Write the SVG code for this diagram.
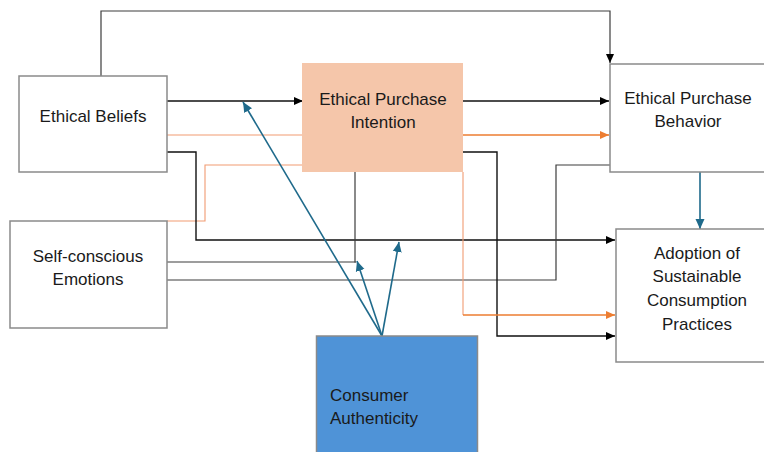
<svg xmlns="http://www.w3.org/2000/svg" width="764" height="452" viewBox="0 0 764 452">
  <defs>
    <style>
      .box { stroke: #8a8a8a; stroke-width: 1.5; }
      .lbl { font-family: "Liberation Sans", Arial, sans-serif; font-size: 17px; fill: #1a1a1a; }
      .mid { text-anchor: middle; }
      .blk { fill: none; stroke: #111; stroke-width: 1.4; }
      .gry { fill: none; stroke: #3c3c3c; stroke-width: 1.2; }
      .org { fill: none; stroke: #ED7D31; stroke-width: 1.4; }
      .orgl { fill: none; stroke: #F19B72; stroke-width: 1.1; }
      .blu { fill: none; stroke: #1F6A8B; stroke-width: 1.6; }
    </style>
    <marker id="ah-black" markerUnits="userSpaceOnUse" markerWidth="10" markerHeight="10" refX="9" refY="5" orient="auto">
      <path d="M0,1 L9,5 L0,9 Z" fill="#000"/>
    </marker>
    <marker id="ah-orange" markerUnits="userSpaceOnUse" markerWidth="10" markerHeight="10" refX="9" refY="5" orient="auto">
      <path d="M0,1 L9,5 L0,9 Z" fill="#ED7D31"/>
    </marker>
    <marker id="ah-blue" markerUnits="userSpaceOnUse" markerWidth="12" markerHeight="12" refX="10" refY="6" orient="auto">
      <path d="M0,1.5 L10,6 L0,10.5 Z" fill="#1F6A8B"/>
    </marker>
  </defs>

  <rect width="764" height="452" fill="#ffffff"/>

  <g id="connectors">
    <!-- Ethical Beliefs over the top to Ethical Purchase Behavior -->
    <polyline class="gry" points="101,76 101,11 610,11 610,63" marker-end="url(#ah-black)"/>
    <!-- Ethical Beliefs to Ethical Purchase Intention -->
    <line class="blk" x1="167" y1="101" x2="303" y2="101" marker-end="url(#ah-black)"/>
    <!-- orange path through the intention box -->
    <line class="orgl" x1="167" y1="135" x2="305" y2="135"/>
    <line class="org" x1="463" y1="135" x2="609" y2="135" marker-end="url(#ah-orange)"/>
    <!-- Self-conscious Emotions to intention (orange) -->
    <polyline class="orgl" points="306,165 205,165 205,221 167,221"/>
    <!-- Ethical Beliefs to Adoption -->
    <polyline class="blk" points="167,152 196,152 196,240 615,240" marker-end="url(#ah-black)"/>
    <!-- Self-conscious Emotions line meeting the intention drop -->
    <line class="gry" x1="167" y1="262" x2="356" y2="262"/>
    <line class="gry" x1="355" y1="172" x2="355" y2="262.5"/>
    <!-- Self-conscious Emotions to Ethical Purchase Behavior -->
    <polyline class="gry" points="167,280 556,280 556,165 610,165"/>
    <!-- Intention to Adoption (black) -->
    <polyline class="blk" points="463,152 497,152 497,336 615,336" marker-end="url(#ah-black)"/>
    <!-- Intention to Adoption (orange) -->
    <line class="orgl" x1="463" y1="172" x2="463" y2="315"/>
    <line class="org" x1="463" y1="315" x2="615" y2="315" marker-end="url(#ah-orange)"/>
    <!-- Intention to Behavior -->
    <line class="blk" x1="463" y1="101" x2="609" y2="101" marker-end="url(#ah-black)"/>
    <!-- Behavior to Adoption -->
    <line class="blu" x1="700" y1="172" x2="700" y2="229" marker-end="url(#ah-blue)"/>
    <!-- Consumer Authenticity moderating arrows -->
    <line class="blu" x1="382" y1="336" x2="243" y2="102" marker-end="url(#ah-blue)"/>
    <line class="blu" x1="382" y1="336" x2="357" y2="261" marker-end="url(#ah-blue)"/>
    <line class="blu" x1="382" y1="336" x2="399" y2="242" marker-end="url(#ah-blue)"/>
  </g>

  <g id="ethical-beliefs">
    <rect class="box" x="19" y="76" width="148" height="96" fill="#fff"/>
    <text class="lbl mid" x="93" y="122">Ethical Beliefs</text>
  </g>

  <g id="ethical-purchase-intention">
    <rect x="302" y="63" width="161" height="109" fill="#F5C6AA"/>
    <text class="lbl mid" x="383" y="105">Ethical Purchase</text>
    <text class="lbl mid" x="383" y="128">Intention</text>
  </g>

  <g id="ethical-purchase-behavior">
    <rect class="box" x="610" y="64" width="160" height="108" fill="#fff"/>
    <text class="lbl mid" x="688" y="104">Ethical Purchase</text>
    <text class="lbl mid" x="688" y="127">Behavior</text>
  </g>

  <g id="self-conscious-emotions">
    <rect class="box" x="10" y="221" width="157" height="107" fill="#fff"/>
    <text class="lbl mid" x="88" y="262">Self-conscious</text>
    <text class="lbl mid" x="88" y="285">Emotions</text>
  </g>

  <g id="adoption">
    <rect class="box" x="616" y="229" width="160" height="133" fill="#fff"/>
    <text class="lbl mid" x="697" y="259">Adoption of</text>
    <text class="lbl mid" x="697" y="282">Sustainable</text>
    <text class="lbl mid" x="697" y="306">Consumption</text>
    <text class="lbl mid" x="697" y="330">Practices</text>
  </g>

  <g id="consumer-authenticity">
    <rect class="box" x="316.5" y="336" width="161" height="130" fill="#4F93D7"/>
    <text class="lbl" x="330" y="401">Consumer</text>
    <text class="lbl" x="330" y="424">Authenticity</text>
  </g>
</svg>
